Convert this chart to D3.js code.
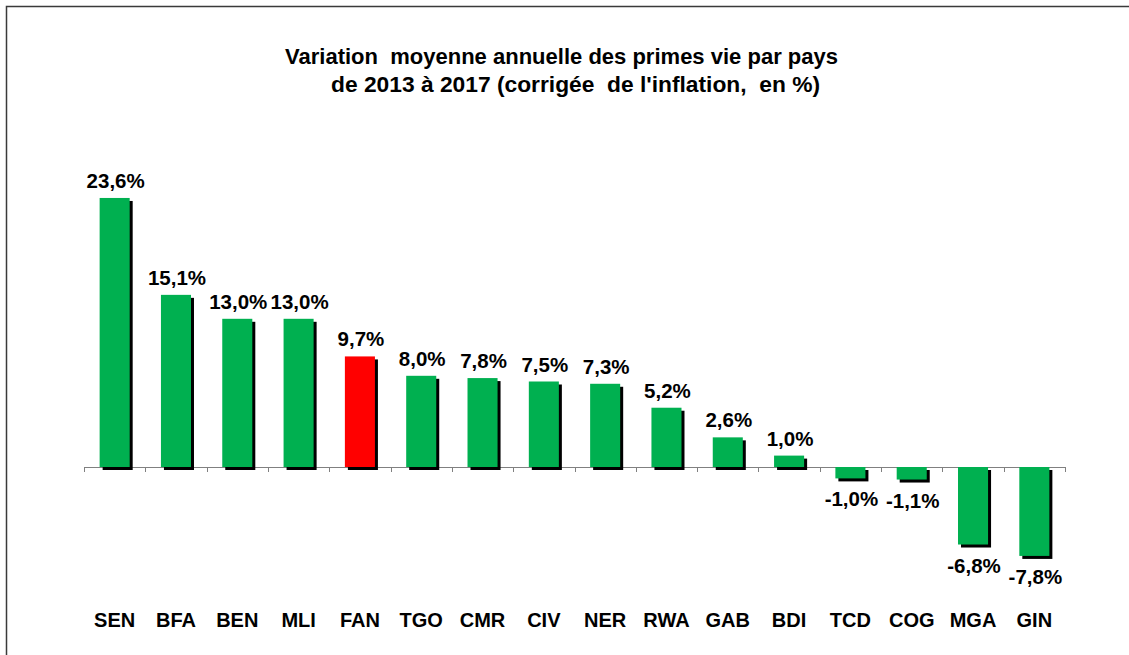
<!DOCTYPE html>
<html>
<head>
<meta charset="utf-8">
<script src="https://cdnjs.cloudflare.com/ajax/libs/d3/7.8.5/d3.min.js"></script>
<style>
  body { margin: 0; background: #fff; }
  text { font-family: "Liberation Sans", Arial, sans-serif; font-weight: bold; fill: #000; }
</style>
</head>
<body>
<div id="chart"></div>
<script>
// pays et variation moyenne annuelle (%)
var countries = ["SEN", "BFA", "BEN", "MLI", "FAN", "TGO", "CMR", "CIV", "NER", "RWA", "GAB", "BDI", "TCD", "COG", "MGA", "GIN"];
var values = [23.6, 15.1, 13.0, 13.0, 9.7, 8.0, 7.8, 7.5, 7.3, 5.2, 2.6, 1.0, -1.0, -1.1, -6.8, -7.8];
var highlight = ["FAN"];
var titleLines = ["Variation  moyenne annuelle des primes vie par pays", "de 2013 à 2017 (corrigée  de l'inflation,  en %)"];

var width = 1129;
var height = 655;

var data = countries.map(function (c, i) { return {country: c, value: values[i]}; });

var svg = d3.select("#chart").
append("svg").
attr("width", width).
attr("height", height);

// cadre
svg.append("rect").
attr("x", 6.5).
attr("y", 6.5).
attr("width", width + 10).
attr("height", height + 10).
attr("fill", "none").
attr("stroke", "#3a3a3a").
attr("stroke-width", 1.5);

var xScale = d3.scaleBand().
domain(countries).
range([84, 1065]).
padding(0);

var yScale = d3.scaleLinear().
domain([-10, 25]).
range([467 + 10 * 11.4, 467 - 25 * 11.4]);

var barW = xScale.bandwidth() * 0.49;
var y0 = yScale(0);

// axe horizontal a zero
var xAxis = d3.axisBottom(xScale).
tickSize(0).
tickFormat("");

var axisG = svg.append("g").
attr("transform", "translate(0," + y0 + ")").
call(xAxis);
axisG.select(".domain").attr("stroke", "#808080").attr("d", "M84.5,0.5H1065.5");

axisG.selectAll(".sep").
data(d3.range(countries.length + 1)).
enter().
append("line").
attr("class", "sep").
attr("x1", function (i) {return Math.round(84 + i * xScale.step()) + 0.5;}).
attr("x2", function (i) {return Math.round(84 + i * xScale.step()) + 0.5;}).
attr("y1", 0).
attr("y2", 5).
attr("stroke", "#808080");

function barX(d) {return xScale(d.country) + (xScale.bandwidth() - barW) / 2;}
function barY(d) {return Math.min(yScale(d.value), y0);}
function barH(d) {return Math.abs(yScale(d.value) - y0);}

// ombres
svg.selectAll(".shadow").
data(data).
enter().
append("rect").
attr("class", "shadow").
attr("x", function (d) {return barX(d) + 3;}).
attr("y", function (d) {return barY(d) + 3;}).
attr("width", barW).
attr("height", barH).
attr("fill", "#000");

svg.selectAll(".bar").
data(data).
enter().
append("rect").
attr("class", "bar").
attr("x", barX).
attr("y", barY).
attr("width", barW).
attr("height", barH).
attr("fill", function (d) {
  if (highlight.indexOf(d.country) >= 0) return "#ff0000";else
  return "#00b050";
});

// etiquettes de valeurs
svg.selectAll(".label").
data(data).
enter().
append("text").
attr("class", "label").
attr("x", function (d) {return xScale(d.country) + xScale.bandwidth() / 2 + 1;}).
attr("y", function (d) {
  if (d.value >= 0) return yScale(d.value) - 10;else
  return yScale(d.value) + 28;
}).
style("text-anchor", "middle").
style("font-size", "20.5px").
text(function (d) {return d3.format(".1f")(d.value).replace(".", ",").replace("−", "-") + "%";});

// noms des pays
svg.selectAll(".cat").
data(countries).
enter().
append("text").
attr("class", "cat").
attr("x", function (c) {return xScale(c) + xScale.bandwidth() / 2;}).
attr("y", 627).
style("text-anchor", "middle").
style("font-size", "20px").
text(function (c) {return c;});

// titre
svg.append("text").
attr("x", 285).
attr("y", 64).
attr("textLength", 553).
attr("lengthAdjust", "spacingAndGlyphs").
style("font-size", "21.5px").
style("white-space", "pre").
text(titleLines[0]);

svg.append("text").
attr("x", 331).
attr("y", 92).
attr("textLength", 489).
attr("lengthAdjust", "spacingAndGlyphs").
style("font-size", "21.5px").
style("white-space", "pre").
text(titleLines[1]);
</script>
</body>
</html>
